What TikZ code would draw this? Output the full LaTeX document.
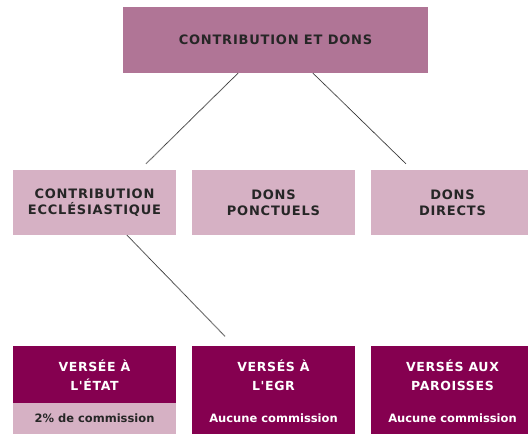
\documentclass[tikz,border=0pt]{standalone}
\usepackage{fontspec}
\setmainfont{DejaVu Sans}
\newfontfamily\capsfont[LetterSpace=6]{DejaVu Sans}
\newfontfamily\titrefont[LetterSpace=5]{DejaVu Sans}
\definecolor{mauve}{HTML}{B07596}
\definecolor{rosepale}{HTML}{D6B1C4}
\definecolor{bordeaux}{HTML}{850050}
\tikzset{
  topbox/.style={fill=mauve, minimum width=305pt, minimum height=66pt, inner sep=0pt,
    font=\capsfont\fontsize{13}{16}\selectfont\bfseries, align=center, text=black!85},
  midbox/.style={fill=rosepale, minimum width=163pt, minimum height=65pt, inner sep=0pt,
    font=\capsfont\fontsize{13}{16}\selectfont\bfseries, align=center, text=black!85},
  versbox/.style={fill=bordeaux, minimum width=163pt, minimum height=59pt, inner sep=0pt,
    font=\titrefont\fontsize{12.5}{19}\selectfont\bfseries, align=center, text=white},
  notebox/.style={fill=bordeaux, minimum width=163pt, minimum height=31pt, inner sep=0pt,
    font=\fontsize{11.5}{14}\selectfont\bfseries, text=white},
  notepale/.style={notebox, fill=rosepale, text=black!85},
  link/.style={black!75, line width=0.9pt, dotted, dash pattern=on 0.9pt off 0.5pt}
}
\begin{document}
\begin{tikzpicture}[x=1pt, y=-1pt]
  \useasboundingbox (0,0) rectangle (528,434);

  % haut
  \node[topbox] (dons) at (275.5,40) {CONTRIBUTION ET DONS};

  % milieu
  \node[midbox] (eccl)  at (94.5,202.5)  {CONTRIBUTION\\ECCLÉSIASTIQUE};
  \node[midbox] (ponct) at (273.5,202.5) {DONS\\PONCTUELS};
  \node[midbox] (direc) at (452.5,202.5) {DONS\\DIRECTS};

  % bas
  \node[versbox] (etat) at (94.5,375)  {VERSÉE À\\L'ÉTAT};
  \node[versbox] (egr)  at (273.5,375) {VERSÉS À\\L'EGR};
  \node[versbox] (par)  at (452.5,375) {VERSÉS AUX\\PAROISSES};
  \node[notepale] (etatnote) at (94.5,418.5)  {2\% de commission};
  \node[notebox]  (egrnote)  at (273.5,418.5) {Aucune commission};
  \node[notebox]  (parnote)  at (452.5,418.5) {Aucune commission};

  % liens
  \draw[link] ([xshift=-37.5pt]dons.south) -- ([xshift=51.5pt,yshift=6pt]eccl.north);
  \draw[link] ([xshift=37.5pt]dons.south) -- ([xshift=-46.5pt,yshift=6pt]direc.north);
  \draw[link] ([xshift=32.5pt]eccl.south) -- ([xshift=-48.5pt,yshift=9pt]egr.north);
\end{tikzpicture}
\end{document}
